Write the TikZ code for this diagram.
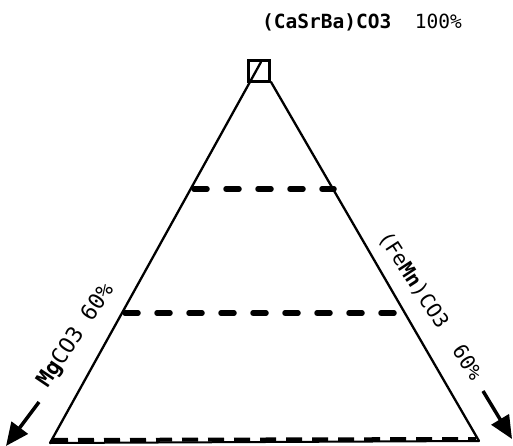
\documentclass[tikz,border=0pt]{standalone}
\usepackage{fontspec}
\setmonofont{DejaVu Sans Mono}
\usetikzlibrary{arrows.meta}
\begin{document}
\begin{tikzpicture}[x=1pt,y=-1pt,
  side/.style={line width=2.3pt,line cap=round},
  level/.style={line width=5.5pt,dash pattern=on 13pt off 19pt,line cap=round},
  baselevel/.style={line width=4pt,dash pattern=on 16pt off 10pt},
  lbl/.style={font=\ttfamily\fontsize{19.5}{19.5}\selectfont,inner sep=0pt},
  slbl/.style={font=\ttfamily\fontsize{20.5}{20.5}\selectfont,inner sep=0pt},
  bigarrow/.style={line width=3.5pt,-{Triangle[length=23pt,width=20pt]}}]
\useasboundingbox (0,0) rectangle (513,446);
% apex box
\node[draw,line width=2.6pt,minimum size=21pt,inner sep=0pt] (apex) at (259,71) {};
\coordinate (TL) at (261,62);
\coordinate (TR) at (271,82);
\coordinate (BL) at (50,443);
\coordinate (BR) at (479,441);
% triangle sides
\draw[side] (BL) -- (TL);
\draw[side] (TR) -- (BR);
\draw[line width=2pt] (BL) -- (BR);
% dashed levels
\coordinate (d1l) at (194,189);
\coordinate (d1r) at (334,189);
\coordinate (d2l) at (125,313);
\coordinate (d2r) at (397,313);
\coordinate (d3l) at (52,440);
\coordinate (d3r) at (476,439);
\draw[level] (d1l) -- (d1r);
\draw[level] (d2l) -- (d2r);
\draw[baselevel] (d3l) -- (d3r);
% labels
\node[lbl] (top) at (362,22) {\textbf{(CaSrBa)CO3}\ \ 100\%};
\node[slbl,font=\ttfamily\fontsize{22}{22}\selectfont,rotate=56] (mg) at (76,336) {\textbf{Mg}CO3 60\%};
\node[slbl,rotate=-57] (fe) at (430,306) {(Fe\textbf{Mn})CO3\ \ 60\%};
% arrows
\coordinate (la1) at (39,402);
\coordinate (la2) at (6,446);
\coordinate (ra1) at (483,391);
\coordinate (ra2) at (512,439);
\draw[bigarrow] (la1) -- (la2);
\draw[bigarrow] (ra1) -- (ra2);
\end{tikzpicture}
\end{document}
